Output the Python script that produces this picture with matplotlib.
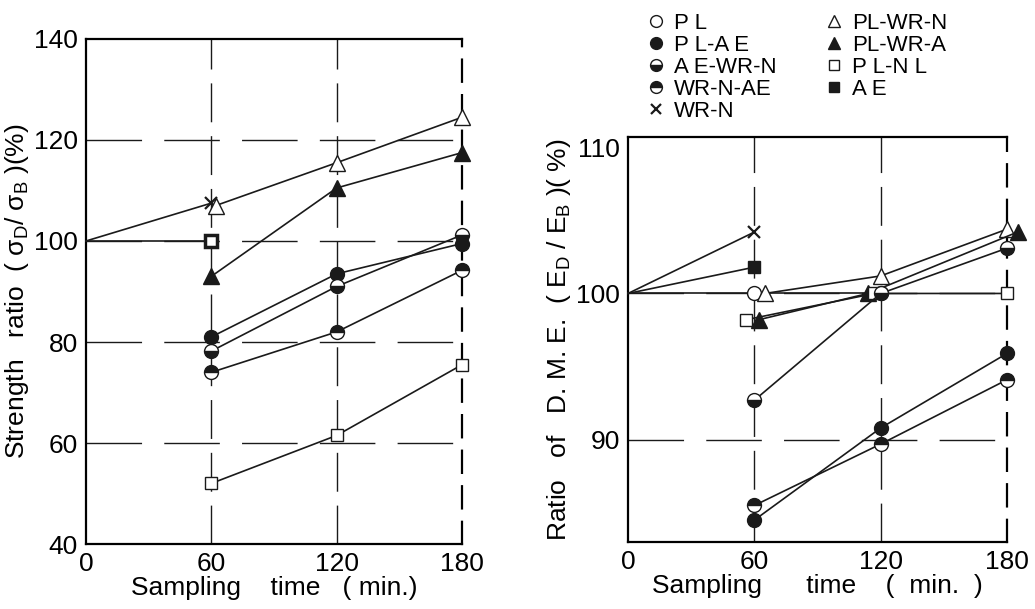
import numpy as np
import matplotlib
matplotlib.use("Agg")
import matplotlib.pyplot as plt
from matplotlib.lines import Line2D

plt.rcParams['font.family'] = ['Liberation Sans', 'DejaVu Sans']
plt.rcParams['mathtext.fontset'] = 'custom'
plt.rcParams['mathtext.rm'] = 'Liberation Sans'
plt.rcParams['mathtext.it'] = 'Liberation Sans'

# ---- left panel: strength ratio ----
left_x_wrn = [0, 60]
left_y_wrn = [100, 107.5]
left_x_plwrn = [62, 120, 180]
left_y_plwrn = [107, 115.5, 124.5]
left_x_ae = [0, 60]
left_y_ae = [100, 100]
left_x_plwra = [60, 120, 180]
left_y_plwra = [93, 110.5, 117.5]
left_x_plae = [60, 120, 180]
left_y_plae = [81, 93.5, 99.5]
left_x_aewrn = [60, 120, 180]
left_y_aewrn = [78.2, 91, 101.2]
left_x_wrnae = [60, 120, 180]
left_y_wrnae = [74, 82, 94.2]
left_x_plnl = [60, 120, 180]
left_y_plnl = [52, 61.5, 75.5]

# ---- right panel: ratio of D.M.E. ----
right_x_wrn = [0, 60]
right_y_wrn = [100, 104.2]
right_x_ae = [0, 60]
right_y_ae = [100, 101.8]
right_x_pl = [0, 60, 120]
right_y_pl = [100, 100, 100]
right_x_plwrn = [65, 120, 180]
right_y_plwrn = [100, 101.2, 104.4]
right_x_plwra = [62, 114, 185]
right_y_plwra = [98.2, 100, 104.2]
right_x_plnl = [56, 117, 180]
right_y_plnl = [98.2, 100, 100]
right_x_aewrn = [60, 120, 180]
right_y_aewrn = [92.7, 100, 103.1]
right_x_plae = [60, 120, 180]
right_y_plae = [84.5, 90.8, 95.9]
right_x_wrnae = [60, 120, 180]
right_y_wrnae = [85.5, 89.7, 94.1]

legend_labels = ["P L", "P L-A E", "A E-WR-N", "WR-N-AE", "WR-N",
                 "PL-WR-N", "PL-WR-A", "P L-N L", "A E"]

dark = '#1a1a1a'
styles = {
    "PL": dict(marker='o', mfc='white', mec=dark, ms=10),
    "PL-AE": dict(marker='o', mfc=dark, mec=dark, ms=10),
    "AE-WR-N": dict(marker='o', fillstyle='bottom', mfc=dark, mfcalt='white', mec=dark, ms=10),
    "WR-N-AE": dict(marker='o', fillstyle='top', mfc=dark, mfcalt='white', mec=dark, ms=10),
    "WR-N": dict(marker='x', mec=dark, ms=8, mew=1.6),
    "PL-WR-N": dict(marker='^', mfc='white', mec=dark, ms=11),
    "PL-WR-A": dict(marker='^', mfc=dark, mec=dark, ms=11),
    "PL-NL": dict(marker='s', mfc='white', mec=dark, ms=9),
    "AE": dict(marker='s', mfc=dark, mec=dark, ms=9),
}


def draw(ax, x, y, key, **extra):
    st = dict(styles[key])
    if 'mfcalt' in st:
        st['markerfacecoloralt'] = st.pop('mfcalt')
    st.update(extra)
    # the common origin point (0, 100) carries no marker
    every = [i for i in range(len(x)) if x[i] != 0]
    ax.plot(x, y, color=dark, lw=1.2, clip_on=False, zorder=3,
            markevery=every, **st)


fig = plt.figure(figsize=(10.35, 6.09), dpi=100)
ax1 = fig.add_axes([0.0831, 0.1067, 0.3633, 0.8293])
ax2 = fig.add_axes([0.6068, 0.110, 0.3662, 0.665])

gdash = (0, (28, 10))
# left panel
ax1.set_xlim(0, 180)
ax1.set_ylim(40, 140)
for v in [60, 120]:
    ax1.axvline(v, color=dark, lw=1.0, ls=gdash, zorder=1)
for h in [120, 100, 80, 60]:
    ax1.axhline(h, color=dark, lw=1.0, ls=(0, (40, 16)), zorder=1)

draw(ax1, left_x_wrn, left_y_wrn, "WR-N")
draw(ax1, left_x_plwrn, left_y_plwrn, "PL-WR-N")
draw(ax1, left_x_ae, left_y_ae, "PL-NL", mew=2.5)
draw(ax1, left_x_plwra, left_y_plwra, "PL-WR-A")
draw(ax1, left_x_plae, left_y_plae, "PL-AE")
draw(ax1, left_x_aewrn, left_y_aewrn, "AE-WR-N")
draw(ax1, left_x_wrnae, left_y_wrnae, "WR-N-AE")
draw(ax1, left_x_plnl, left_y_plnl, "PL-NL")

ax1.set_xticks([0, 60, 120, 180])
ax1.set_yticks([40, 60, 80, 100, 120, 140])
ax1.set_xlabel("Sampling    time   ( min.)", fontsize=19, labelpad=0)
ax1.set_ylabel(r"Strength   ratio  ( $\sigma_D$/ $\sigma_B$ )(%)", fontsize=19, labelpad=2)

# right panel
ax2.set_xlim(0, 180)
ax2.set_ylim(83, 110.7)
for v in [60, 120]:
    ax2.axvline(v, color=dark, lw=1.0, ls=gdash, zorder=1)
for h in [100, 90]:
    ax2.axhline(h, color=dark, lw=1.0, ls=(0, (40, 16)), zorder=1)

draw(ax2, right_x_wrn, right_y_wrn, "WR-N")
draw(ax2, right_x_ae, right_y_ae, "AE")
draw(ax2, right_x_pl, right_y_pl, "PL")
draw(ax2, right_x_plwrn, right_y_plwrn, "PL-WR-N")
draw(ax2, right_x_plwra, right_y_plwra, "PL-WR-A")
draw(ax2, right_x_plnl, right_y_plnl, "PL-NL")
draw(ax2, right_x_aewrn, right_y_aewrn, "AE-WR-N")
draw(ax2, right_x_plae, right_y_plae, "PL-AE")
draw(ax2, right_x_wrnae, right_y_wrnae, "WR-N-AE")

ax2.set_xticks([0, 60, 120, 180])
ax2.set_yticks([90, 100, 110])
ax2.set_xlabel("Sampling      time    (  min.  )", fontsize=19, labelpad=0)
ax2.set_ylabel(r"Ratio   of   D. M. E.  ( $E_D$ / $E_B$ )( %)", fontsize=19, labelpad=2)

for ax in (ax1, ax2):
    ax.tick_params(length=0, labelsize=19, pad=6)
    for s in ['left', 'bottom', 'top']:
        ax.spines[s].set_linewidth(1.6)
    ax.spines['right'].set_linewidth(1.6)
    ax.spines['right'].set_linestyle((0, (10, 6)))

# legend above right panel
keys = ["PL", "PL-AE", "AE-WR-N", "WR-N-AE", "WR-N",
        "PL-WR-N", "PL-WR-A", "PL-NL", "AE"]
handles = []
for k in keys:
    st = dict(styles[k])
    if 'mfcalt' in st:
        st['markerfacecoloralt'] = st.pop('mfcalt')
    st['ms'] = st['ms'] * 0.85
    handles.append(Line2D([], [], color=dark, ls='none', **st))
fig.legend(handles, legend_labels, ncol=2, loc='upper left',
           bbox_to_anchor=(0.61, 1.005), frameon=False, fontsize=16,
           handlelength=0.8, handletextpad=0.4, labelspacing=0.05,
           columnspacing=2.2, borderpad=0.2)

fig.savefig("out.png", dpi=100)
